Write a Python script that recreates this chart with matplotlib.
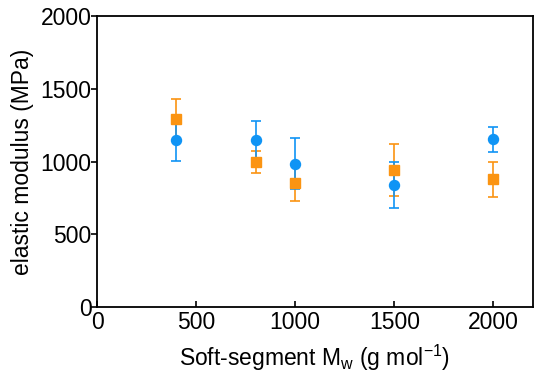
import matplotlib
matplotlib.use("Agg")
import matplotlib.pyplot as plt

plt.rcParams["font.family"] = ["Liberation Sans", "DejaVu Sans"]
plt.rcParams["mathtext.fontset"] = "custom"
plt.rcParams["mathtext.rm"] = "Liberation Sans"
plt.rcParams["mathtext.it"] = "Liberation Sans"

# data
mw = [400, 800, 1000, 1500, 2000]
blue_mod = [1148, 1148, 985, 838, 1152]
blue_err = [145, 133, 175, 160, 84]
orange_mod = [1290, 996, 854, 941, 878]
orange_err = [140, 75, 123, 177, 118]

blue = "#0f94f5"
orange = "#fb9412"

fig = plt.figure(figsize=(5.5, 3.82), dpi=100)
ax = fig.add_axes([0.1764, 0.196, 0.7927, 0.762])

ax.errorbar(mw, orange_mod, yerr=orange_err, fmt="s", color=orange,
            ms=6.5, capsize=3.5, elinewidth=1.2, capthick=1.2)
ax.errorbar(mw, blue_mod, yerr=blue_err, fmt="o", color=blue,
            ms=7.2, capsize=3.5, elinewidth=1.2, capthick=1.2)

ax.set_xlim(0, 2200)
ax.set_ylim(0, 2000)
ax.set_xticks([0, 500, 1000, 1500, 2000])
ax.set_yticks([0, 500, 1000, 1500, 2000])
ax.tick_params(axis="x", direction="in", length=4, width=1.2, labelsize=16.5, pad=3)
ax.tick_params(axis="y", direction="out", length=4, width=1.2, labelsize=16.5, pad=0)
for s in ax.spines.values():
    s.set_linewidth(1.3)

ax.set_xlabel("Soft-segment M$_\\mathregular{w}$ (g mol$^\\mathregular{-1}$)", fontsize=16.5, labelpad=6)
ax.set_ylabel("elastic modulus (MPa)", fontsize=16.5, labelpad=5)

fig.savefig("out.png", dpi=100)
